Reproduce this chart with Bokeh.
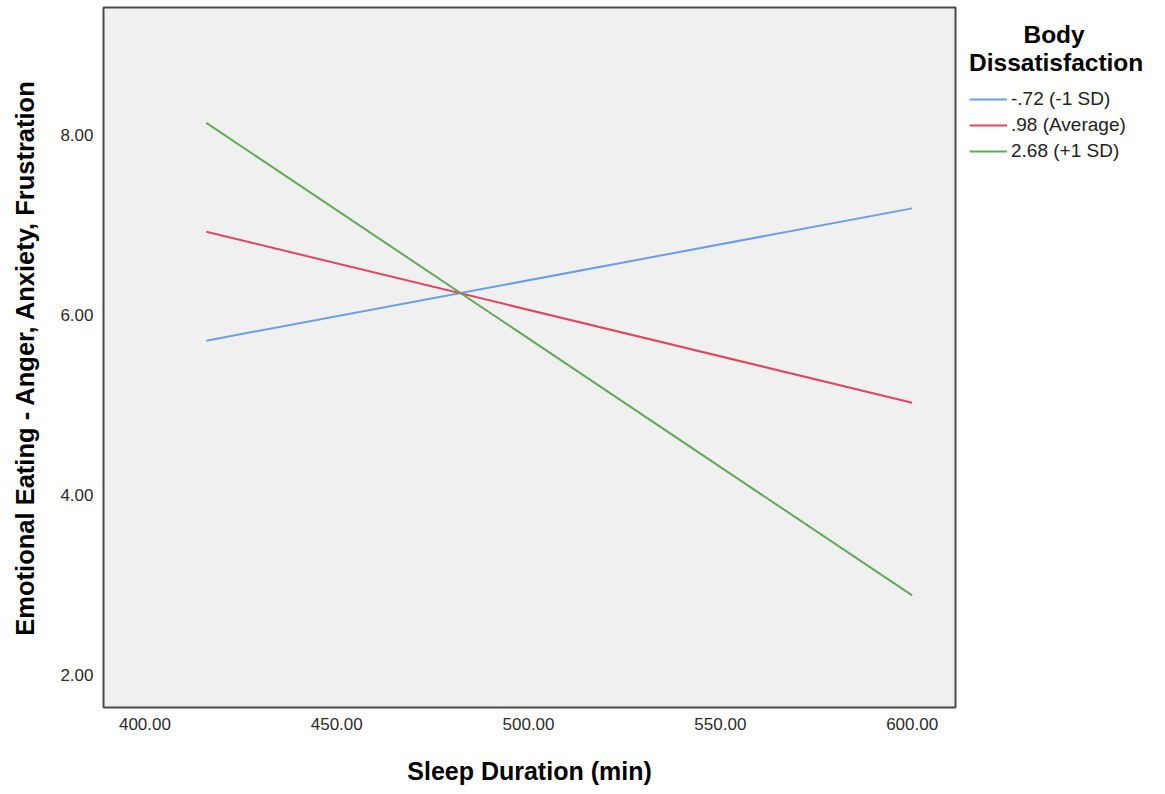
from bokeh.plotting import figure
from bokeh.models import (Range1d, FixedTicker, PrintfTickFormatter, Legend, LegendItem)
from bokeh.embed import file_html
from bokeh.resources import INLINE

# Data
sleep = [416.0, 600.0]
series_names = ["-.72 (-1 SD)", ".98 (Average)", "2.68 (+1 SD)"]
low_sd = [5.72, 7.19]
average = [6.93, 5.03]
high_sd = [8.14, 2.89]
colors = ["#6b9ee8", "#e2455e", "#62a85a"]
x_ticks = [400, 450, 500, 550, 600]
y_ticks = [2, 4, 6, 8]
legend_title = "\u00a0" * 8 + "Body\nDissatisfaction"

FONT = "Liberation Sans"

p = figure(frame_width=852, frame_height=700, output_backend="svg", toolbar_location=None,
           x_range=Range1d(389.2, 611.3), y_range=Range1d(1.644, 9.422),
           min_border_left=103, min_border_right=0, min_border_top=7, min_border_bottom=83)

p.background_fill_color = "#f0f0f0"
p.border_fill_color = "white"
p.outline_line_color = "#4a4a4a"
p.outline_line_width = 2
p.grid.visible = False

renderers = []
for ys, c in zip([low_sd, average, high_sd], colors):
    r = p.line(sleep, ys, line_color=c, line_width=2)
    renderers.append(r)

for ax in (p.xaxis[0], p.yaxis[0]):
    ax.axis_line_color = None
    ax.major_tick_line_color = None
    ax.minor_tick_line_color = None
    ax.major_tick_out = 0
    ax.major_tick_in = 0
    ax.major_label_text_font = FONT
    ax.major_label_text_font_size = "17px"
    ax.major_label_text_color = "#2b2b2b"
    ax.major_label_standoff = 10
    ax.axis_label_text_font = FONT
    ax.axis_label_text_font_style = "bold"
    ax.axis_label_text_color = "#000000"
    ax.formatter = PrintfTickFormatter(format="%.2f")

p.xaxis[0].ticker = FixedTicker(ticks=x_ticks)
p.yaxis[0].ticker = FixedTicker(ticks=y_ticks)
p.xaxis[0].axis_label = "Sleep Duration (min)"
p.yaxis[0].axis_label = "Emotional Eating - Anger, Anxiety, Frustration"
p.xaxis[0].axis_label_text_font_size = "25px"
p.yaxis[0].axis_label_text_font_size = "25.5px"
p.xaxis[0].axis_label_standoff = 24
p.yaxis[0].axis_label_standoff = 18

legend = Legend(items=[LegendItem(label=n, renderers=[r]) for n, r in zip(series_names, renderers)],
                location="top_left", padding=0, margin=14, spacing=4,
                label_height=20, glyph_height=20, glyph_width=38, label_standoff=4,
                label_text_font=FONT, label_text_font_size="19px", label_text_color="#222222",
                title=legend_title, title_text_font=FONT, title_text_font_style="bold",
                title_text_font_size="24.5px", title_text_color="#000000",
                title_standoff=11,
                background_fill_alpha=0, border_line_alpha=0)
p.add_layout(legend, "right")

open("out.html", "w").write(file_html(p, INLINE))
